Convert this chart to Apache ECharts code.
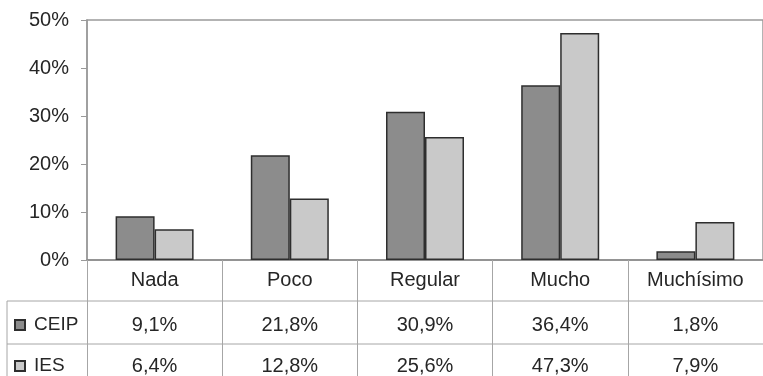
<!DOCTYPE html>
<html>
<head>
<meta charset="utf-8">
<script src="https://cdn.jsdelivr.net/npm/echarts@6/dist/echarts.min.js"></script>
<style>
  html, body { margin: 0; padding: 0; background: #fff; }
  #chart { width: 763px; height: 376px; }
</style>
</head>
<body>
<div id="chart"></div>
<script>
// Categories and values (percentages)
const categories = ['Nada', 'Poco', 'Regular', 'Mucho', 'Muchísimo'];
const ceipValues = [9.1, 21.8, 30.9, 36.4, 1.8];
const iesValues = [6.4, 12.8, 25.6, 47.3, 7.9];
const seriesNames = ['CEIP', 'IES'];
const yTicks = [0, 10, 20, 30, 40, 50];

const FONT = '"Liberation Sans", Arial, sans-serif';
const FS = 20;
const TEXT = '#262626';
const LINE = '#a6a6a6';
const COLORS = ['#8c8c8c', '#c9c9c9'];

// Layout of plot + data table
const G = { left: 87, top: 20, width: 685, height: 240 };
const ROW1 = 301, ROW2 = 344, TABLE_LEFT = 7;

const fmt = v => v.toFixed(1).replace('.', ',') + '%';

const chart = echarts.init(document.getElementById('chart'));

const valueAxis = (data, offset) => ({
  type: 'category',
  gridIndex: 0,
  position: 'bottom',
  offset: offset,
  data: data.map(fmt),
  axisLine: { show: false },
  axisTick: { show: false },
  axisLabel: { fontFamily: FONT, fontSize: FS, color: TEXT, margin: 10 }
});

// one legend key per table row
const rowLegend = (name, top) => ({
  left: 14, top: top,
  padding: 0,
  itemWidth: 10, itemHeight: 10,
  icon: 'rect',
  data: [name],
  textStyle: { fontFamily: FONT, fontSize: 19, lineHeight: 20, color: TEXT, padding: [0, 0, 0, 4] }
});

chart.setOption({
  animation: false,
  backgroundColor: '#fff',
  grid: {
    left: G.left, top: G.top, width: G.width, height: G.height,
    show: true, borderColor: '#9a9a9a', borderWidth: 1.5
  },
  legend: [rowLegend(seriesNames[0], 315), rowLegend(seriesNames[1], 356)],
  xAxis: [
    {
      type: 'category',
      data: categories,
      axisLine: { lineStyle: { color: '#8a8a8a', width: 1.5 } },
      axisTick: { show: true, length: 120, lineStyle: { color: LINE, width: 1 } },
      axisLabel: { fontFamily: FONT, fontSize: FS, color: TEXT, margin: 10 }
    },
    valueAxis(ceipValues, 45),
    valueAxis(iesValues, 86)
  ],
  yAxis: {
    type: 'value',
    min: yTicks[0], max: yTicks[yTicks.length - 1], interval: 10,
    axisLine: { show: true, lineStyle: { color: '#9a9a9a', width: 1.5 } },
    axisTick: { show: true, length: 6, lineStyle: { color: '#9a9a9a' } },
    splitLine: { show: false },
    axisLabel: { fontFamily: FONT, fontSize: FS, color: TEXT, margin: 18, formatter: '{value}%' }
  },
  series: [
    {
      name: seriesNames[0], type: 'bar', data: ceipValues,
      barWidth: 39, barGap: '0%',
      itemStyle: { color: COLORS[0], borderColor: '#2e2e2e', borderWidth: 1.5 }
    },
    {
      name: seriesNames[1], type: 'bar', data: iesValues,
      barWidth: 39,
      itemStyle: { color: COLORS[1], borderColor: '#2e2e2e', borderWidth: 1.5 }
    }
  ],
  graphic: [
    { type: 'line', shape: { x1: TABLE_LEFT, y1: ROW1, x2: 763, y2: ROW1 }, style: { stroke: LINE, lineWidth: 1 } },
    { type: 'line', shape: { x1: TABLE_LEFT, y1: ROW2, x2: 763, y2: ROW2 }, style: { stroke: LINE, lineWidth: 1 } },
    { type: 'line', shape: { x1: TABLE_LEFT, y1: ROW1, x2: TABLE_LEFT, y2: 376 }, style: { stroke: LINE, lineWidth: 1 } }
  ]
});
</script>
</body>
</html>
